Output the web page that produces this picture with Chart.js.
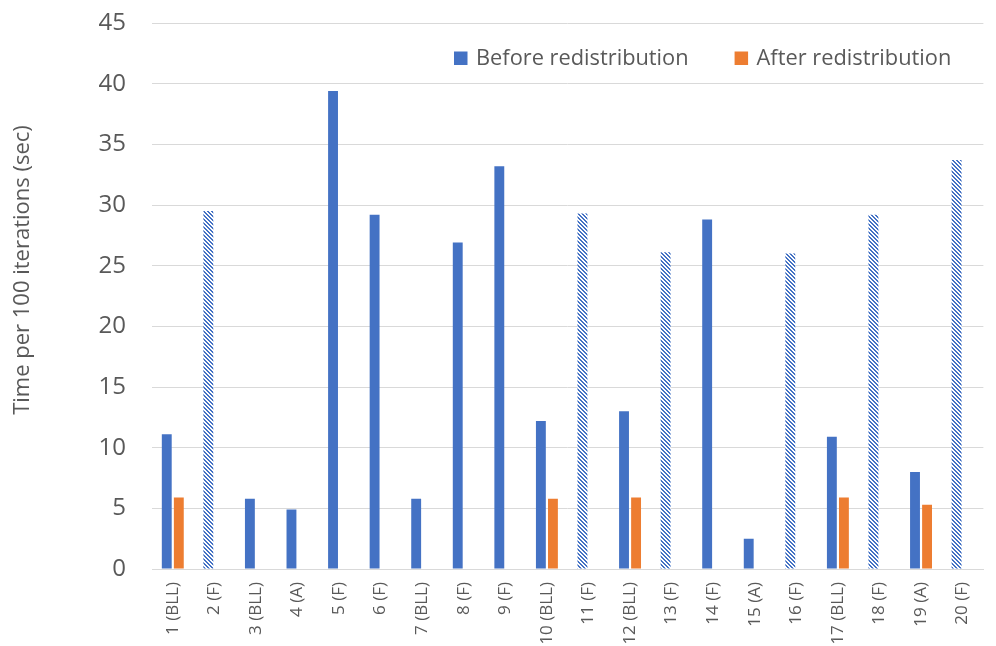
<!DOCTYPE html>
<html>
<head>
<meta charset="utf-8">
<script src="https://cdn.jsdelivr.net/npm/chart.js@4.4.1/dist/chart.umd.min.js"></script>
<style>
  html, body { margin: 0; padding: 0; background: #ffffff; }
  #wrap { width: 996px; height: 646px; position: relative; }
</style>
</head>
<body>
<div id="wrap"><canvas id="chart" width="996" height="646"></canvas></div>
<script>
// Node labels: index plus node type
const categories = [
  '1 (BLL)', '2 (F)', '3 (BLL)', '4 (A)', '5 (F)', '6 (F)', '7 (BLL)', '8 (F)', '9 (F)', '10 (BLL)',
  '11 (F)', '12 (BLL)', '13 (F)', '14 (F)', '15 (A)', '16 (F)', '17 (BLL)', '18 (F)', '19 (A)', '20 (F)'
];

// Time per 100 iterations (sec)
const beforeValues = [11.1, 29.5, 5.8, 4.9, 39.4, 29.2, 5.8, 26.9, 33.2, 12.2,
                      29.3, 13.0, 26.1, 28.8, 2.5, 26.0, 10.9, 29.2, 8.0, 33.7];
const afterValues = [5.9, null, null, null, null, null, null, null, null, 5.8,
                     null, 5.9, null, null, null, null, 5.9, null, 5.3, null];

// Nodes whose "before" bar is drawn with a hatch fill
const hatchedCategories = ['2 (F)', '11 (F)', '13 (F)', '16 (F)', '18 (F)', '20 (F)'];

// Y axis tick values
const yTickValues = [0, 5, 10, 15, 20, 25, 30, 35, 40, 45];

const seriesNames = ['Before redistribution', 'After redistribution'];
const yTitle = 'Time per 100 iterations (sec)';

const BLUE = '#4472C4';
const ORANGE = '#ED7D31';
const TEXT = '#595959';
const GRID = '#D9D9D9';
const FONT = "'Open Sans', sans-serif";

// Downward diagonal stripe fill
function makeHatch(color) {
  const size = 4;
  const c = document.createElement('canvas');
  c.width = size; c.height = size;
  const g = c.getContext('2d');
  g.fillStyle = '#ffffff';
  g.fillRect(0, 0, size, size);
  g.fillStyle = color;
  for (let y = 0; y < size; y++) {
    for (let x = 0; x < size; x++) {
      const d = ((x - y) % size + size) % size;
      if (d === 0 || d === 1) g.fillRect(x, y, 1, 1);
    }
  }
  return g.createPattern(c, 'repeat');
}

const hatch = makeHatch(BLUE);
const beforeFills = categories.map(c => hatchedCategories.includes(c) ? hatch : BLUE);

// Legend drawn inside the plot area, near the top, plus the rotated y-axis title
const annotations = {
  id: 'annotations',
  afterDraw(chart) {
    const ctx = chart.ctx;
    const colors = [BLUE, ORANGE];
    ctx.save();
    ctx.font = `21.8px ${FONT}`;
    ctx.textBaseline = 'middle';
    ctx.textAlign = 'left';
    let x = 454;
    const cy = 58.5;
    seriesNames.forEach((name, i) => {
      ctx.fillStyle = colors[i];
      ctx.fillRect(x, cy - 7, 13.5, 13.5);
      ctx.fillStyle = TEXT;
      ctx.fillText(name, x + 22, cy);
      x += 22 + ctx.measureText(name).width + 46;
    });
    ctx.restore();

    ctx.save();
    ctx.font = `22px ${FONT}`;
    ctx.fillStyle = TEXT;
    ctx.textAlign = 'center';
    ctx.textBaseline = 'middle';
    ctx.translate(23, 270);
    ctx.rotate(-Math.PI / 2);
    ctx.fillText(yTitle, 0, 0);
    ctx.restore();
  }
};

new Chart(document.getElementById('chart'), {
  type: 'bar',
  data: {
    labels: categories,
    datasets: [
      {
        label: seriesNames[0],
        data: beforeValues,
        backgroundColor: beforeFills,
        borderWidth: 0,
        categoryPercentage: 0.58,
        barPercentage: 0.82
      },
      {
        label: seriesNames[1],
        data: afterValues,
        backgroundColor: ORANGE,
        borderWidth: 0,
        categoryPercentage: 0.58,
        barPercentage: 0.82
      }
    ]
  },
  options: {
    responsive: false,
    animation: false,
    layout: { padding: { top: 23, right: 0, left: 0, bottom: 0 } },
    plugins: {
      legend: { display: false },
      tooltip: { enabled: false }
    },
    scales: {
      x: {
        grid: { display: false, drawTicks: false },
        border: { display: true, color: GRID, width: 1 },
        ticks: {
          color: TEXT,
          font: { family: FONT, size: 17 },
          maxRotation: 90,
          minRotation: 90,
          autoSkip: false,
          padding: 13
        },
        afterFit(scale) { scale.height = 77; }
      },
      y: {
        min: 0,
        max: 45,
        afterBuildTicks(scale) { scale.ticks = yTickValues.map(v => ({ value: v })); },
        grid: { color: GRID, lineWidth: 1, drawTicks: false },
        border: { display: false },
        ticks: {
          color: TEXT,
          font: { family: FONT, size: 24 },
          padding: 26
        },
        title: { display: false },
        afterFit(scale) {
          scale.width = 152;
          // the top/bottom labels fit inside the layout padding
          scale.paddingTop = 0;
          scale.paddingBottom = 0;
        }
      }
    }
  },
  plugins: [annotations]
});
</script>
</body>
</html>
